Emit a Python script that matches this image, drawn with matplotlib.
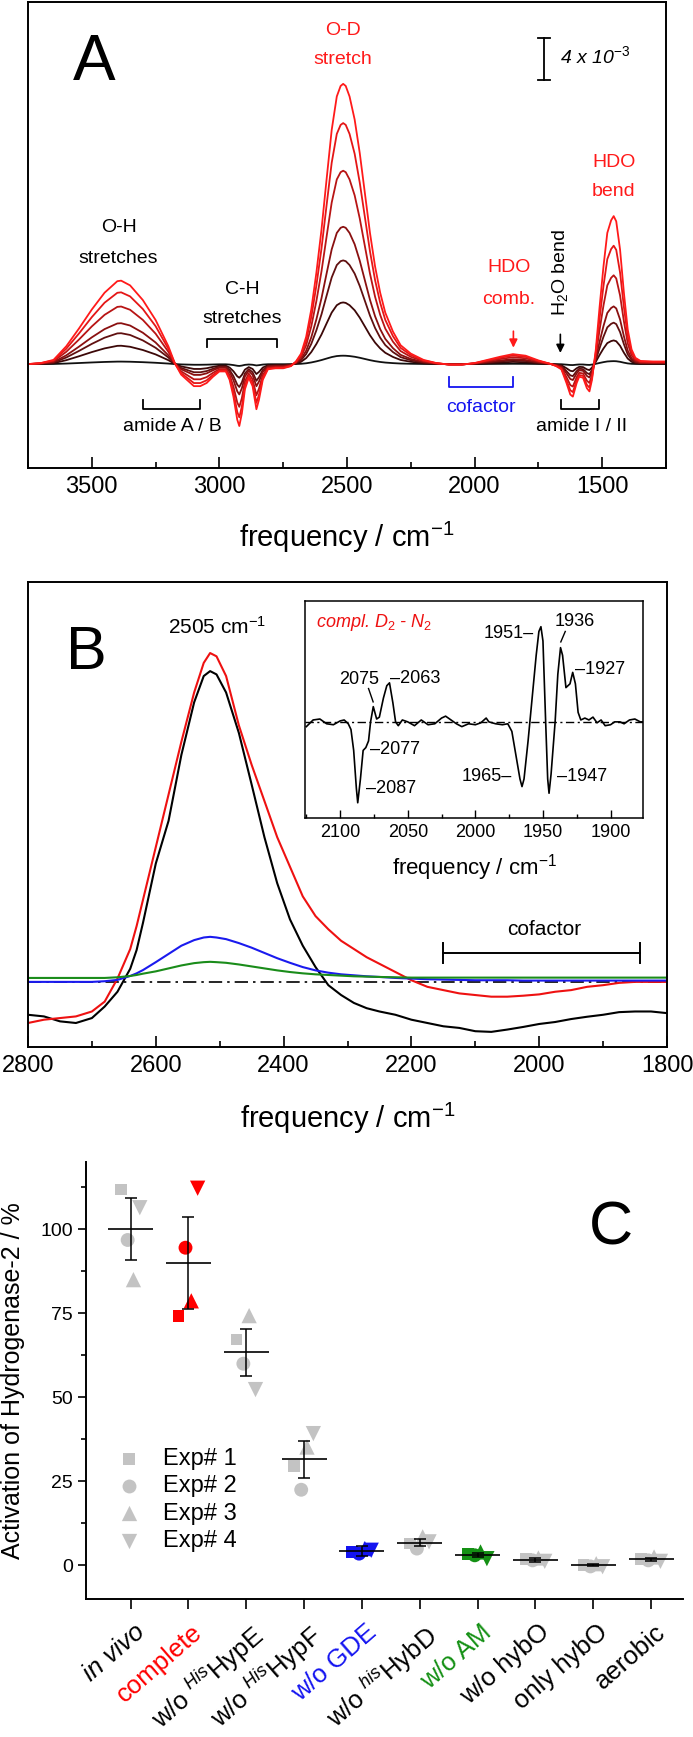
import matplotlib
matplotlib.use("Agg")
import matplotlib.pyplot as plt
import numpy as np
from matplotlib.ticker import MultipleLocator
from matplotlib.transforms import ScaledTranslation

plt.rcParams['font.family'] = ['Liberation Sans', 'DejaVu Sans']
plt.rcParams['mathtext.fontset'] = 'custom'
plt.rcParams['mathtext.rm'] = 'Liberation Sans'
plt.rcParams['mathtext.it'] = 'Liberation Sans:italic'
plt.rcParams['mathtext.bf'] = 'Liberation Sans:bold'

# ---------------- panel A: D2O exchange series (mOD) ----------------
a_freq = [3750, 3700, 3650, 3600, 3550, 3500, 3450, 3400, 3385, 3350,
          3300, 3250, 3200, 3175, 3150, 3100, 3075, 3050, 3025, 3000,
          2975, 2960, 2945, 2930, 2922, 2912, 2900, 2885, 2870, 2855,
          2845, 2830, 2810, 2780, 2750, 2720, 2700, 2680, 2660, 2640,
          2620, 2600, 2580, 2560, 2540, 2525, 2515, 2505, 2490, 2470,
          2450, 2430, 2410, 2390, 2370, 2350, 2320, 2290, 2250, 2200,
          2150, 2100, 2050, 2000, 1950, 1900, 1850, 1800, 1750, 1700,
          1680, 1660, 1640, 1625, 1615, 1600, 1590, 1575, 1560, 1550,
          1540, 1525, 1510, 1495, 1480, 1465, 1455, 1445, 1430, 1415,
          1400, 1385, 1370, 1350, 1300, 1250]
a_red = [0.0, 0.1, 0.4, 1.7, 3.4, 5.2, 6.8, 7.9, 7.95, 7.5,
         6.1, 4.2, 1.7, 0.1, -1.0, -2.1, -2.1, -1.8, -1.2, -0.7,
         -0.7, -1.5, -3.1, -5.3, -5.9, -4.7, -2.4, -1.3, -2.1, -4.3,
         -3.4, -1.5, -0.5, -0.4, -0.4, -0.2, 0.25, 1.0, 2.6, 5.2,
         8.7, 12.8, 17.6, 22.3, 25.5, 26.5, 26.7, 26.5, 25.5, 23.3,
         20.1, 16.3, 12.5, 9.3, 6.8, 4.9, 3.1, 1.8, 1.0, 0.4,
         0.1, -0.05, -0.05, 0.1, 0.4, 0.7, 0.95, 0.8, 0.35, 0.0,
         -0.2, -0.5, -1.8, -2.9, -3.1, -1.8, -1.2, -1.3, -2.3, -2.6,
         -1.5, 1.4, 5.5, 9.3, 12.5, 13.7, 14.1, 13.6, 10.9, 6.8,
         3.3, 1.4, 0.6, 0.3, 0.25, 0.25]
a_od_scale = [1.0, 0.86, 0.69, 0.49, 0.37, 0.22, 0.03]
a_bend_scale = [1.0, 0.80, 0.60, 0.39, 0.28, 0.16, 0.02]
a_colors = ['#ff1a1a', '#e41616', '#b81414', '#8a1010', '#601010', '#3c0808', '#111111']

# ---------------- panel B ----------------
b_freq = [2800, 2775, 2750, 2725, 2700, 2680, 2660, 2640, 2630, 2620,
          2600, 2580, 2560, 2540, 2525, 2515, 2505, 2490, 2470, 2450,
          2430, 2410, 2390, 2370, 2350, 2330, 2310, 2290, 2270, 2250,
          2225, 2200, 2175, 2150, 2125, 2100, 2075, 2050, 2025, 2000,
          1975, 1950, 1925, 1900, 1875, 1850, 1825, 1800]
b_red = [-0.125, -0.115, -0.11, -0.105, -0.09, -0.06, 0.01, 0.10, 0.17, 0.25,
         0.41, 0.57, 0.73, 0.88, 0.97, 1.0, 0.99, 0.93, 0.78, 0.66,
         0.55, 0.44, 0.35, 0.26, 0.20, 0.16, 0.125, 0.10, 0.075, 0.055,
         0.03, 0.005, -0.015, -0.025, -0.035, -0.04, -0.045, -0.045, -0.042, -0.038,
         -0.03, -0.025, -0.015, -0.01, -0.003, 0.0, 0.0, 0.0]
b_black = [-0.10, -0.105, -0.12, -0.125, -0.11, -0.075, -0.03, 0.04, 0.097, 0.18,
           0.36, 0.49, 0.69, 0.85, 0.93, 0.945, 0.935, 0.88, 0.757, 0.60,
           0.44, 0.30, 0.19, 0.11, 0.045, -0.01, -0.04, -0.064, -0.08, -0.09,
           -0.10, -0.115, -0.125, -0.135, -0.14, -0.15, -0.152, -0.145, -0.137, -0.128,
           -0.122, -0.113, -0.106, -0.1, -0.092, -0.09, -0.09, -0.095]
b_blue = [0.0, 0.0, 0.0, 0.0, 0.0, 0.002, 0.006, 0.018, 0.026, 0.036,
          0.06, 0.085, 0.11, 0.127, 0.135, 0.137, 0.135, 0.13, 0.118, 0.104,
          0.088, 0.072, 0.058, 0.045, 0.035, 0.028, 0.023, 0.02, 0.017, 0.015,
          0.012, 0.01, 0.008, 0.007, 0.006, 0.005, 0.005, 0.005, 0.004, 0.004,
          0.004, 0.004, 0.004, 0.004, 0.004, 0.004, 0.004, 0.004]
b_green = [0.012, 0.012, 0.012, 0.012, 0.012, 0.012, 0.014, 0.018, 0.021, 0.025,
           0.032, 0.041, 0.05, 0.057, 0.06, 0.061, 0.06, 0.058, 0.053, 0.047,
           0.041, 0.035, 0.03, 0.026, 0.023, 0.021, 0.019, 0.017, 0.016, 0.015,
           0.014, 0.013, 0.013, 0.013, 0.013, 0.013, 0.013, 0.013, 0.013, 0.013,
           0.013, 0.013, 0.013, 0.013, 0.013, 0.013, 0.013, 0.013]

# inset: complete D2 - N2 difference
ins_freq = [2125, 2120, 2115, 2110, 2105, 2100, 2097, 2094, 2092, 2090,
            2088, 2087, 2085, 2083, 2081, 2079, 2077.5, 2075.5, 2073, 2071,
            2068, 2065.5, 2063.5, 2061, 2059, 2057, 2054, 2050, 2045, 2040,
            2035, 2030, 2025, 2022, 2018, 2014, 2010, 2005, 2000, 1996,
            1992, 1990, 1985, 1980, 1976, 1973, 1970, 1967, 1965.5, 1964,
            1961, 1958, 1955, 1953, 1951.5, 1950, 1948, 1946.5, 1945.5, 1944,
            1941, 1939, 1937, 1935.5, 1933, 1930, 1928, 1926, 1924, 1922,
            1919, 1916, 1913, 1910, 1907, 1904, 1900, 1897, 1893, 1890,
            1886, 1882, 1878, 1876]
ins_val = [-0.05, 0.02, 0.03, -0.02, -0.03, 0.01, 0.02, -0.02, -0.08, -0.3,
           -0.7, -0.85, -0.6, -0.3, -0.27, -0.2, 0.0, 0.16, 0.03, 0.05,
           0.25, 0.38, 0.41, 0.2, 0.0, -0.04, 0.02, 0.0, -0.04, 0.02,
           -0.03, -0.02, 0.04, 0.06, 0.02, -0.02, -0.05, -0.02, -0.03, -0.01,
           0.04, 0.0, -0.02, -0.03, -0.02, -0.1, -0.35, -0.6, -0.68, -0.6,
           -0.2, 0.25, 0.7, 0.95, 1.0, 0.85, 0.0, -0.6, -0.75, -0.55,
           0.0, 0.5, 0.78, 0.7, 0.36, 0.4, 0.52, 0.4, 0.1, 0.02,
           0.04, 0.02, 0.05, -0.01, 0.02, -0.04, -0.03, 0.0, 0.0, -0.02,
           0.02, 0.03, 0.0, 0.0]

# ---------------- panel C ----------------
cat_labels = ['in vivo', 'complete', r'w/o ${}^{\mathit{His}}$HypE', r'w/o ${}^{\mathit{His}}$HypF',
              'w/o GDE', r'w/o ${}^{\mathit{his}}$HybD', 'w/o AM', 'w/o hybO', 'only hybO', 'aerobic']
exp1 = [111.8, 74.3, 67.2, 29.5, 4.0, 6.5, 3.5, 2.0, 0.2, 2.0]
exp2 = [96.8, 94.5, 60.0, 22.5, 3.5, 5.0, 3.0, 1.5, -0.3, 1.5]
exp3 = [85.0, 78.7, 74.3, 35.2, 5.0, 8.5, 4.0, 2.2, 0.5, 2.5]
exp4 = [106.4, 112.2, 52.3, 39.2, 4.5, 7.0, 2.0, 1.2, -0.4, 1.2]
err = [9.3, 13.6, 7.0, 5.5, 1.5, 1.0, 0.5, 0.6, 0.3, 0.4]
gray = '#c3c3c3'
pt_colors = [gray, '#ff0000', gray, gray, '#1414f0', gray, '#149014', gray, gray, gray]
lab_colors = ['black', '#ff0000', 'black', 'black', '#1414f0', 'black', '#149014', 'black', 'black', 'black']

W, H = 693, 1737
fig = plt.figure(figsize=(W / 100, H / 100), dpi=100)


def px_axes(l, t, r, b):
    return fig.add_axes([l / W, 1 - b / H, (r - l) / W, (b - t) / H])


def bracket(ax, x0, x1, y, h, color='black'):
    ax.plot([x0, x0, x1, x1], [y + h, y, y, y + h], color=color, lw=1.3)


# ===== A =====
axA = px_axes(28, 2, 666, 468)
fa = np.array(a_freq)
for k in range(len(a_od_scale) - 1, -1, -1):
    scale = np.where(fa < 1535, a_bend_scale[k], a_od_scale[k])
    axA.plot(fa, np.array(a_red) * scale, color=a_colors[k], lw=1.3)
axA.set_xlim(3750, 1250)
axA.set_ylim(-9.9, 34.5)
axA.set_yticks([])
axA.xaxis.set_major_locator(MultipleLocator(500))
axA.xaxis.set_minor_locator(MultipleLocator(250))
axA.tick_params(axis='x', which='both', direction='in', labelsize=17, pad=6, width=1.2)
axA.tick_params(axis='x', which='major', length=8)
axA.tick_params(axis='x', which='minor', length=4)
for s in axA.spines.values():
    s.set_linewidth(1.4)
axA.set_xlabel(r'frequency / cm$^{\mathregular{-1}}$', fontsize=21)
axA.xaxis.set_label_coords(0.5, -69 / 466)
axA.xaxis.label.set_va('center')

axA.text(3490, 28.7, 'A', fontsize=46, ha='center', va='center')
axA.text(2516, 31.8, 'O-D', color='#ff1a1a', fontsize=14, ha='center', va='center')
axA.text(2516, 29.0, 'stretch', color='#ff1a1a', fontsize=14, ha='center', va='center')
axA.plot([1728, 1728], [27.1, 31.05], color='black', lw=1.3)
axA.plot([1703, 1753], [27.1, 27.1], color='black', lw=1.3)
axA.plot([1703, 1753], [31.05, 31.05], color='black', lw=1.3)
axA.text(1667, 29.3, r'4 x 10$^{-3}$', fontsize=14, style='italic', ha='left', va='center')
axA.text(3395, 13.0, 'O-H', fontsize=14, ha='center', va='center')
axA.text(3395, 10.1, 'stretches', fontsize=14, ha='center', va='center')
axA.text(2909, 7.1, 'C-H', fontsize=14, ha='center', va='center')
axA.text(2909, 4.3, 'stretches', fontsize=14, ha='center', va='center')
bracket(axA, 3050, 2774, 2.4, -0.8)
bracket(axA, 3300, 3076, -4.25, 0.85)
axA.text(3185, -5.9, 'amide A / B', fontsize=14, ha='center', va='center')
bracket(axA, 2102, 1848, -2.2, 0.93, color='#1414f0')
axA.text(1974, -4.1, 'cofactor', fontsize=14, color='#1414f0', ha='center', va='center')
bracket(axA, 1662, 1512, -4.25, 0.85)
axA.text(1581, -5.9, 'amide I / II', fontsize=14, ha='center', va='center')
axA.text(1866, 9.2, 'HDO', color='#ff1a1a', fontsize=14, ha='center', va='center')
axA.text(1866, 6.2, 'comb.', color='#ff1a1a', fontsize=14, ha='center', va='center')
axA.annotate('', xy=(1848, 1.3), xytext=(1848, 3.4),
             arrowprops=dict(arrowstyle='-|>', color='#ff1a1a', lw=1.2, mutation_scale=12))
axA.text(1664, 8.7, r'H$_\mathregular{2}$O bend', fontsize=14, rotation=90, ha='center', va='center')
axA.annotate('', xy=(1664, 0.8), xytext=(1664, 3.1),
             arrowprops=dict(arrowstyle='-|>', color='black', lw=1.2, mutation_scale=12))
axA.text(1455, 19.2, 'HDO', color='#ff1a1a', fontsize=14, ha='center', va='center')
axA.text(1455, 16.4, 'bend', color='#ff1a1a', fontsize=14, ha='center', va='center')

# ===== B =====
axB = px_axes(28, 582, 667, 1047)
axB.axhline(0, color='black', lw=1.2, dashes=(8, 3, 1.5, 3))
axB.plot(b_freq, b_black, color='black', lw=1.5)
axB.plot(b_freq, b_red, color='#ee1111', lw=1.5)
axB.plot(b_freq, b_blue, color='#1a1aee', lw=1.5)
axB.plot(b_freq, b_green, color='#1a8c1a', lw=1.5)
axB.set_xlim(2800, 1800)
axB.set_ylim(-0.198, 1.216)
axB.set_yticks([])
axB.xaxis.set_major_locator(MultipleLocator(200))
axB.xaxis.set_minor_locator(MultipleLocator(100))
axB.tick_params(axis='x', which='both', direction='in', labelsize=17, pad=6, width=1.2)
axB.tick_params(axis='x', which='major', length=8)
axB.tick_params(axis='x', which='minor', length=4)
for s in axB.spines.values():
    s.set_linewidth(1.4)
axB.set_xlabel(r'frequency / cm$^{\mathregular{-1}}$', fontsize=21)
axB.xaxis.set_label_coords(0.5, -71 / 465)
axB.xaxis.label.set_va('center')
axB.text(2709, 1.0, 'B', fontsize=44, ha='center', va='center')
axB.text(2504, 1.08, r'2505 cm$^{\mathregular{-1}}$', fontsize=15, ha='center', va='center')
axB.text(1992, 0.158, 'cofactor', fontsize=15, ha='center', va='center')
axB.plot([2150, 1843], [0.088, 0.088], color='black', lw=1.4)
axB.plot([2150, 2150], [0.058, 0.118], color='black', lw=1.4)
axB.plot([1843, 1843], [0.058, 0.118], color='black', lw=1.4)

# inset
axI = px_axes(305, 601, 643, 818)
axI.axhline(0, color='black', lw=1.0, dashes=(6, 2.5, 1.5, 2.5))
axI.plot(ins_freq, ins_val, color='black', lw=1.2)
axI.set_xlim(2126, 1876)
axI.set_ylim(-1.01, 1.27)
axI.set_yticks([])
axI.xaxis.set_major_locator(MultipleLocator(50))
axI.xaxis.set_minor_locator(MultipleLocator(25))
axI.tick_params(axis='x', which='both', direction='in', labelsize=13, pad=4, width=1.0)
axI.tick_params(axis='x', which='major', length=6)
axI.tick_params(axis='x', which='minor', length=3)
for s in axI.spines.values():
    s.set_linewidth(1.1)
axI.set_xlabel(r'frequency / cm$^{\mathregular{-1}}$', fontsize=16)
axI.xaxis.set_label_coords(0.5, -50 / 217)
axI.xaxis.label.set_va('center')
axI.text(2118, 1.04, r'compl. D$_2$ - N$_2$', color='#ee1111', fontsize=13, style='italic',
         ha='left', va='center')
fs_i = 13
axI.text(1957, 0.93, '1951\u2013', fontsize=fs_i, ha='right', va='center')
axI.text(1926.4, 1.05, '1936', fontsize=fs_i, ha='center', va='center')
axI.plot([1933.5, 1936.8], [0.95, 0.84], color='black', lw=1.0)
axI.text(1926, 0.55, '\u20131927', fontsize=fs_i, ha='left', va='center')
axI.text(2086, 0.44, '2075', fontsize=fs_i, ha='center', va='center')
axI.plot([2079, 2075.6], [0.35, 0.21], color='black', lw=1.0)
axI.text(2063, 0.46, '\u20132063', fontsize=fs_i, ha='left', va='center')
axI.text(2078, -0.29, '\u20132077', fontsize=fs_i, ha='left', va='center')
axI.text(2081, -0.70, '\u20132087', fontsize=fs_i, ha='left', va='center')
axI.text(1973, -0.57, '1965\u2013', fontsize=fs_i, ha='right', va='center')
axI.text(1939.4, -0.57, '\u20131947', fontsize=fs_i, ha='left', va='center')

# ===== C =====
axC = px_axes(86, 1162, 683, 1599)
xs = np.arange(1, len(cat_labels) + 1)
offsets = [-0.17, -0.05, 0.05, 0.16]
markers = ['s', 'o', '^', 'v']
sizes = [72, 100, 121, 121]
exps = [exp1, exp2, exp3, exp4]
for j in range(4):
    axC.scatter(xs + offsets[j], exps[j], marker=markers[j], s=sizes[j], c=pt_colors,
                linewidths=0, zorder=2)
means = np.mean(np.array(exps), axis=0)
axC.hlines(means, xs - 0.39, xs + 0.39, color='black', lw=1.2, zorder=3)
axC.errorbar(xs, means, yerr=err, fmt='none', ecolor='black', elinewidth=1.1,
             capsize=4, capthick=1.1, zorder=3)
axC.set_xlim(0.23, 10.55)
axC.set_ylim(-10, 120)
axC.spines['top'].set_visible(False)
axC.spines['right'].set_visible(False)
for s in axC.spines.values():
    s.set_linewidth(1.4)
axC.yaxis.set_major_locator(MultipleLocator(25))
axC.yaxis.set_minor_locator(MultipleLocator(12.5))
axC.tick_params(axis='y', which='both', direction='out', labelsize=14, width=1.2)
axC.tick_params(axis='y', which='major', length=6)
axC.tick_params(axis='y', which='minor', length=3.5)
axC.set_xticks(xs)
axC.set_xticklabels(cat_labels, rotation=41, ha='right', rotation_mode='anchor', fontsize=18.5)
axC.tick_params(axis='x', direction='out', length=7, width=1.2, pad=8)
for lab, col in zip(axC.get_xticklabels(), lab_colors):
    lab.set_color(col)
    lab.set_transform(lab.get_transform() + ScaledTranslation(0.03, 0, fig.dpi_scale_trans))
axC.get_xticklabels()[0].set_style('italic')
axC.set_ylabel('Activation of Hydrogenase-2 / %', fontsize=18)
axC.yaxis.set_label_coords(-73 / 597, 0.5)
axC.yaxis.label.set_va('center')
axC.text(9.3, 100, 'C', fontsize=44, ha='center', va='center')

handles = [axC.scatter([], [], marker=m, s=sz, c=gray, linewidths=0) for m, sz in zip(markers, sizes)]
axC.legend(handles, ['Exp# 1', 'Exp# 2', 'Exp# 3', 'Exp# 4'], loc='upper left',
           bbox_to_anchor=(0.052, 0.345), frameon=False, fontsize=17, handlelength=1.0,
           handletextpad=0.95, labelspacing=0.22, borderpad=0, borderaxespad=0)

fig.savefig('out.png', dpi=100)
